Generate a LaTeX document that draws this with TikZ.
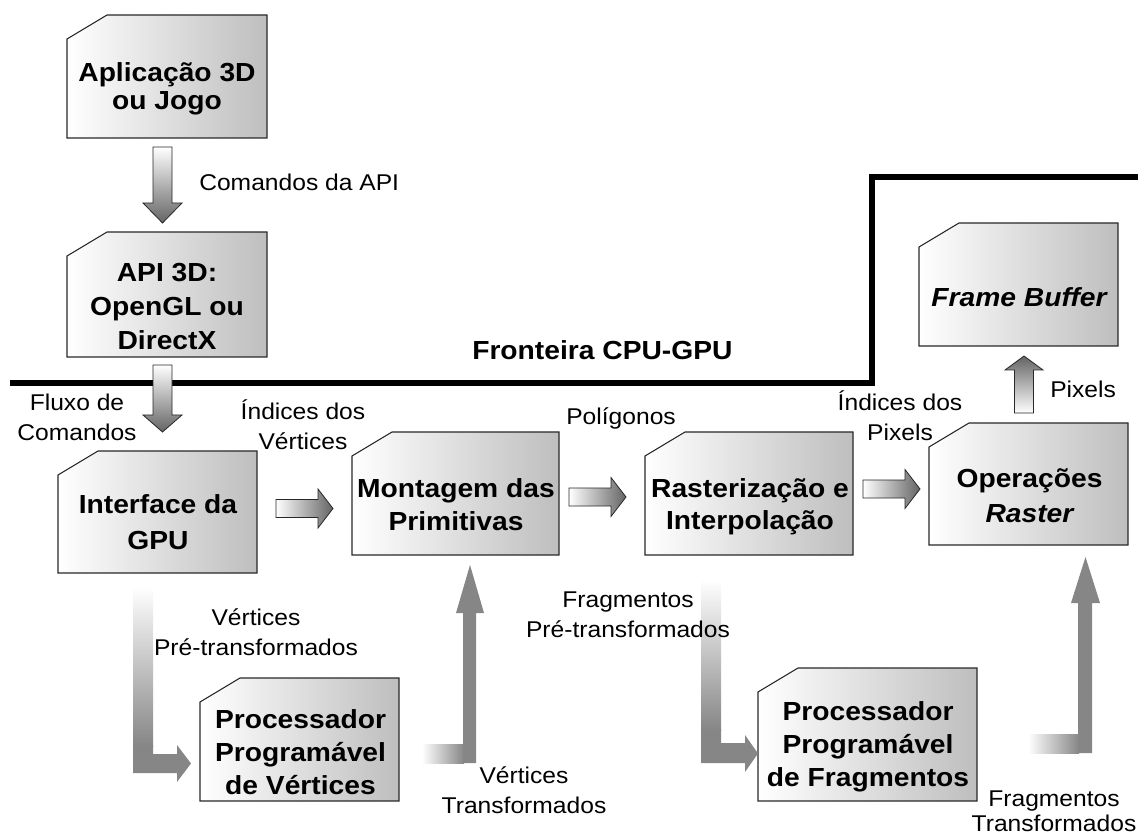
\documentclass[tikz,border=0pt]{standalone}
\usepackage{fontspec}
\setmainfont{Liberation Sans}[FakeStretch=1.08]
\usetikzlibrary{fit}
\definecolor{agray}{RGB}{134,134,134}
\definecolor{adark}{RGB}{100,100,100}
\definecolor{boxgray}{RGB}{190,190,190}
\definecolor{edge}{RGB}{40,40,40}
\newcommand\lines[1]{\begin{tabular}[t]{@{}c@{}}#1\end{tabular}}
\tikzset{
  boxframe/.style={inner sep=0, outer sep=0, draw=none},
  boxshape/.style={draw=edge, line width=0.8pt, left color=white, right color=boxgray},
  boxtext/.style={anchor=base, inner sep=0, font=\fontsize{19.6}{#1}\selectfont\bfseries},
  lbl/.style={anchor=base, inner sep=0, font=\fontsize{17.1}{22.5pt}\selectfont},
  fatH/.style={draw=edge, line width=0.6pt, left color=white, right color=adark},
  fatD/.style={draw=edge, line width=0.6pt, top color=white, bottom color=adark},
  fatU/.style={draw=edge, line width=0.6pt, bottom color=white, top color=adark},
  bigarrow/.style={fill=agray, draw=none},
  fadeV/.style={top color=white, bottom color=agray, draw=none},
  fadeH/.style={left color=white, right color=agray, draw=none},
  border/.style={line width=5pt, black, line join=miter}
}
\newcommand\cbox[5]{%
  \node[boxframe, fit={(#2,#3)(#4,#5)}] (#1) {};
  \path[boxshape] ([yshift=-18pt]#1.north west) -- ([xshift=30pt]#1.north west)
     -- (#1.north east) -- (#1.south east) -- (#1.south west) -- cycle;
}
% down arrow: x center, y top, y head base, y tip
\newcommand\darrow[4]{%
  \path[fatD] (#1-9.5,#2) -- (#1+9.5,#2) -- (#1+9.5,#3) -- (#1+19.5,#3) -- (#1,#4)
     -- (#1-19.5,#3) -- (#1-9.5,#3) -- cycle;
}
% right arrow: x start, y center
\newcommand\rarrow[2]{%
  \path[fatH] (#1,#2-9) -- (#1+42,#2-9) -- (#1+42,#2-19.5) -- (#1+57,#2)
     -- (#1+42,#2+19.5) -- (#1+42,#2+9) -- (#1,#2+9) -- cycle;
}
\begin{document}
\begin{tikzpicture}[x=0.75pt,y=-0.75pt]
\useasboundingbox (0,0) rectangle (1138,837);

% CPU-GPU border
\draw[border] (10,383) -- (872,383) -- (872,177) -- (1140,177);
\node[anchor=base west, inner sep=0, font=\fontsize{19.6}{24pt}\selectfont\bfseries] (front) at (472,360) {Fronteira CPU-GPU};

% boxes
\cbox{app}{67}{15}{267}{138}
\cbox{api}{67}{232}{267}{357}
\cbox{gpu}{58}{451}{257}{573}
\cbox{mont}{352}{432}{559}{555}
\cbox{rast}{645}{432}{853}{555}
\cbox{rop}{929}{423}{1128}{545}
\cbox{fb}{919}{223}{1118}{346}
\cbox{vp}{200}{678}{399}{801}
\cbox{fp}{758}{668}{977}{801}

% box texts
\node[boxtext=21pt] (app-t) at (167,82) {\lines{Aplicação 3D\\ou Jogo}};
\node[boxtext=25.5pt] (api-t) at (167,282) {\lines{API 3D:\\OpenGL ou\\DirectX}};
\node[boxtext=27pt] (gpu-t) at (158,513) {\lines{Interface da\\GPU}};
\node[boxtext=24.75pt] (mont-t) at (456,497) {\lines{Montagem das\\Primitivas}};
\node[boxtext=24pt] (rast-t) at (750,498) {\lines{Rasterização e\\Interpolação}};
\node[boxtext=26pt] (rop-t) at (1029.5,488) {\lines{Operações\\\itshape Raster}};
\node[boxtext=24pt] (fb-t) at (1019,307) {\itshape Frame Buffer};
\node[boxtext=25.1pt] (vp-t) at (300.5,728) {\lines{Processador\\Programável\\de Vértices}};
\node[boxtext=25.1pt] (fp-t) at (868,720) {\lines{Processador\\Programável\\de Fragmentos}};

% short fat arrows
\darrow{162.5}{147}{203}{223}
\darrow{162.5}{365}{415}{432}
\rarrow{276}{508.5}
\rarrow{569}{497}
\rarrow{863}{489}
\path[fatU] (1014.5,413) -- (1033.5,413) -- (1033.5,370) -- (1043,370) -- (1024,356)
   -- (1005,370) -- (1014.5,370) -- cycle;

% vertices pre-transformados (L arrow)
\path[fadeV] (133,587) rectangle (153,746);
\path[bigarrow] (133,745) -- (153,745) -- (153,754) -- (177,754) -- (177,745) -- (191,763.5)
   -- (177,782) -- (177,773) -- (133,773) -- cycle;
% vertices transformados
\path[fadeH] (422,744) rectangle (464,763);
\path[bigarrow] (463,763) -- (463,613) -- (456,613) -- (470,565) -- (484,613) -- (476,613)
   -- (476,763) -- cycle;
% fragmentos pre-transformados
\path[fadeV] (701,580) rectangle (721,730);
\path[bigarrow] (701,729) -- (721,729) -- (721,743) -- (745,743) -- (745,735) -- (758,753.5)
   -- (745,772) -- (745,763) -- (701,763) -- cycle;
% fragmentos transformados
\path[fadeH] (1028,734) rectangle (1079,753);
\path[bigarrow] (1078,753) -- (1078,603) -- (1071,603) -- (1085.5,557) -- (1100,603)
   -- (1092,603) -- (1092,753) -- cycle;

% labels
\node[lbl, anchor=base west] (cmdapi) at (199,191) {Comandos da API};
\node[lbl] (fluxo) at (77,411) {\lines{Fluxo de\\Comandos}};
\node[lbl] (idxv) at (303,420) {\lines{Índices dos\\Vértices}};
\node[lbl, anchor=base west] (polig) at (566,425) {Polígonos};
\node[lbl] (idxp) at (900,411) {\lines{Índices dos\\Pixels}};
\node[lbl, anchor=base west] (pix) at (1050,398) {Pixels};
\node[lbl] (vpre) at (256,625) {\lines{Vértices\\Pré-transformados}};
\node[lbl] (vtr) at (524,783) {\lines{Vértices\\Transformados}};
\node[lbl] (fpre) at (628,607) {\lines{Fragmentos\\Pré-transformados}};
\node[lbl] (ftr1) at (1054,806) {Fragmentos};
\node[lbl] (ftr2) at (1054,831) {Transformados};
\end{tikzpicture}
\end{document}
